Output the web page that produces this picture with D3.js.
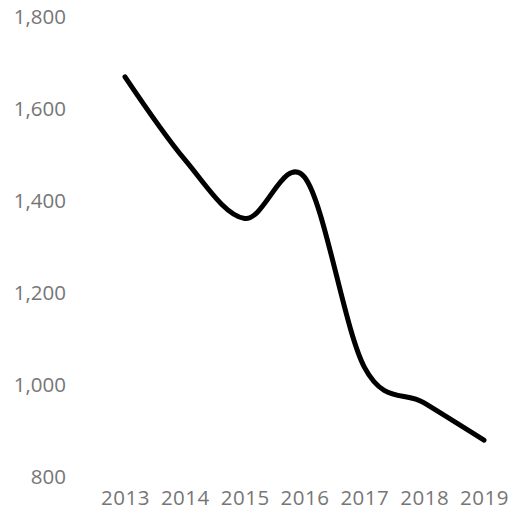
<!DOCTYPE html>
<html><head><meta charset="utf-8">
<script src="https://cdn.jsdelivr.net/npm/d3@7"></script>
<style>body{margin:0;background:#fff}svg{display:block}</style>
</head><body>
<script>
const years = ["2013","2014","2015","2016","2017","2018","2019"];
const values = [1670, 1490, 1362, 1452, 1039, 961, 880];
const yTicks = [800, 1000, 1200, 1400, 1600, 1800];

const W = 513, H = 521;
const svg = d3.select("body").append("svg").attr("width", W).attr("height", H);
const x = d3.scalePoint().domain(years).range([125, 484]);
const y = d3.scaleLinear().domain([800, 1800]).range([477, 17]);
const fmt = d3.format(",");

const yAxis = svg.append("g").attr("transform", "translate(66,0)")
  .call(d3.axisLeft(y).tickValues(yTicks).tickFormat(fmt).tickSize(0).tickPadding(0));
yAxis.select(".domain").remove();
yAxis.selectAll("text").attr("font-family", "Open Sans, sans-serif").attr("font-size", 20.5).attr("fill", "#767676");

const xAxis = svg.append("g").attr("transform", "translate(0,498)")
  .call(d3.axisBottom(x).tickSize(0).tickPadding(0));
xAxis.select(".domain").remove();
xAxis.selectAll("text").attr("font-family", "Open Sans, sans-serif").attr("font-size", 20.5).attr("fill", "#767676").attr("dy", "0.35em")
  .attr("letter-spacing", 0.5);

const line = d3.line().x((d, i) => x(years[i])).y(d => y(d)).curve(d3.curveCardinal.tension(0));
svg.append("path").datum(values).attr("d", line).attr("fill", "none")
  .attr("stroke", "#000").attr("stroke-width", 5).attr("stroke-linecap", "round").attr("stroke-linejoin", "round");
</script>
</body></html>
